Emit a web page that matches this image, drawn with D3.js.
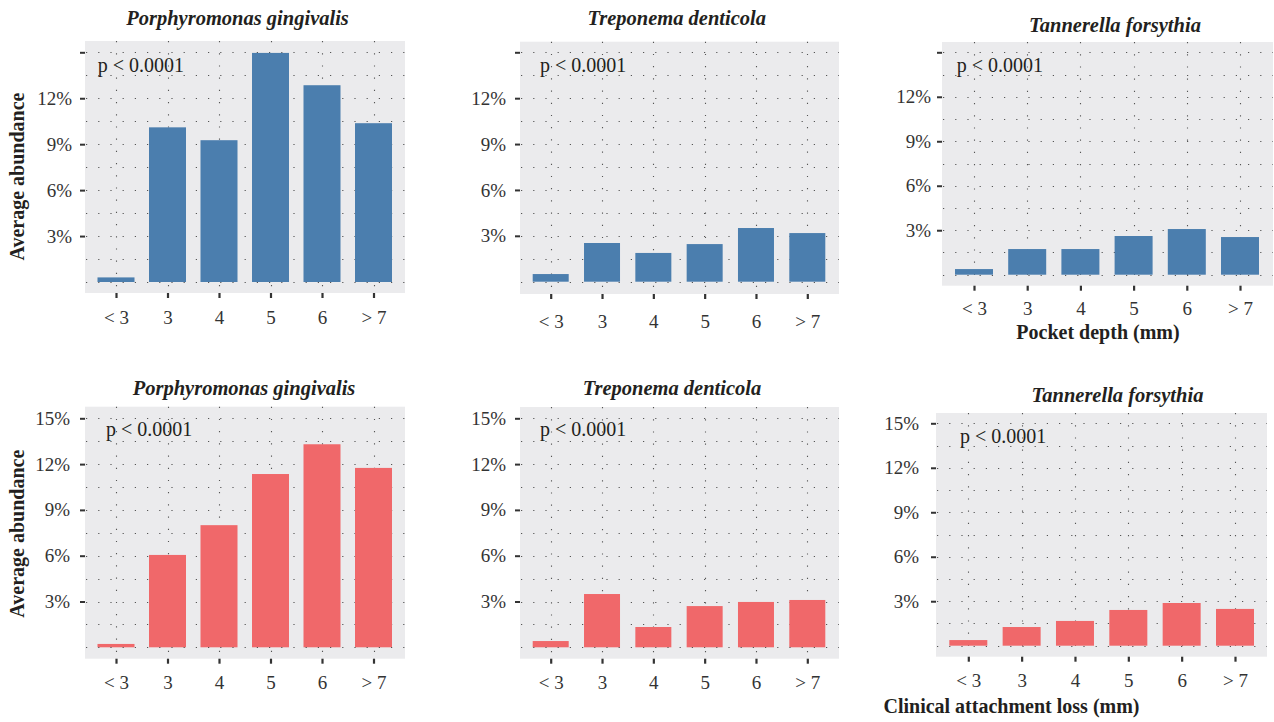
<!DOCTYPE html>
<html>
<head>
<meta charset="utf-8">
<script src="https://cdn.jsdelivr.net/npm/d3@7"></script>
<style>
  html, body { margin: 0; padding: 0; background: #ffffff; }
  svg { display: block; }
  svg text { font-family: "Liberation Serif", "Times New Roman", serif !important; }
</style>
</head>
<body>
<svg id="chart" width="1274" height="722"></svg>
<script>
// ---------- data ----------
const categories = ["< 3", "3", "4", "5", "6", "> 7"];
const speciesNames = ["Porphyromonas gingivalis", "Treponema denticola", "Tannerella forsythia"];
// Average abundance (%) by pocket depth
const pocketPg = [0.3, 10.1, 9.26, 14.96, 12.85, 10.37];
const pocketTd = [0.5, 2.53, 1.88, 2.46, 3.51, 3.18];
const pocketTf = [0.38, 1.73, 1.73, 2.61, 3.08, 2.54];
// Average abundance (%) by clinical attachment loss
const calPg = [0.22, 6.05, 8.0, 11.35, 13.3, 11.75];
const calTd = [0.41, 3.49, 1.33, 2.7, 2.97, 3.1];
const calTf = [0.38, 1.26, 1.67, 2.41, 2.88, 2.48];
const yTickValues = [3, 6, 9, 12, 15];
const gridValues = [0, 1.5, 3, 4.5, 6, 7.5, 9, 10.5, 12, 13.5, 15];
const pText = "p < 0.0001";
const yTitle = "Average abundance";
const xTitleTop = "Pocket depth (mm)";
const xTitleBottom = "Clinical attachment loss (mm)";

// ---------- layout ----------
const BLUE = "#4b7eae";
const RED = "#f0686a";
const BG = "#ebebed";
const INK = "#231f20";
const SERIF = "'Liberation Serif', 'Times New Roman', serif";

const panels = [
  {vals: pocketPg, name: 0, color: BLUE, x0: 85,  x1: 405,  top: 41,  bottom: 293,   zero: 282,   y15: 52.3,  c0: 116,   c5: 373.5,  bw: 37, label15: false, tx: 237.5, ty: 25,    px: 97.7,  py: 71.7,  lgap: 13,  xdy: 24},
  {vals: pocketTd, name: 1, color: BLUE, x0: 520, x1: 839,  top: 41.7,bottom: 294,   zero: 281.7, y15: 52.3,  c0: 550.7, c5: 807.3,  bw: 36, label15: false, tx: 676.7, ty: 25,    px: 540,   py: 71.7,  lgap: 14,  xdy: 27},
  {vals: pocketTf, name: 2, color: BLUE, x0: 942, x1: 1273, top: 42,  bottom: 285.7, zero: 274.7, y15: 52.3,  c0: 974,   c5: 1240,   bw: 38, label15: false, tx: 1115,  ty: 32.3,  px: 956.7, py: 71.7,  lgap: 11,  xdy: 22},
  {vals: calPg,    name: 0, color: RED,  x0: 85,  x1: 405,  top: 406.7,bottom: 658.7,zero: 647.3, y15: 418.3, c0: 116,   c5: 373.5,  bw: 37, label15: true,  tx: 244,   ty: 395,   px: 106,   py: 435.7, lgap: 15,  xdy: 22.5},
  {vals: calTd,    name: 1, color: RED,  x0: 520, x1: 839,  top: 407, bottom: 658.7, zero: 647.3, y15: 418.3, c0: 550.7, c5: 807.3,  bw: 36, label15: true,  tx: 672,   ty: 395,   px: 540,   py: 435.7, lgap: 14,  xdy: 23},
  {vals: calTf,    name: 2, color: RED,  x0: 936, x1: 1267, top: 413, bottom: 656.7, zero: 645.7, y15: 423.3, c0: 968.3, c5: 1235,   bw: 38, label15: true,  tx: 1117.5,ty: 402.3, px: 960,   py: 443.3, lgap: 17,  xdy: 23.3}
];

const svg = d3.select("#chart");

panels.forEach(p => {
  const g = svg.append("g");
  const x = d3.scalePoint().domain(categories).range([p.c0, p.c5]);
  const y = d3.scaleLinear().domain([0, 15]).range([p.zero, p.y15]);

  // background
  g.append("rect")
    .attr("x", p.x0).attr("y", p.top)
    .attr("width", p.x1 - p.x0).attr("height", p.bottom - p.top)
    .attr("fill", BG);

  // dotted grid
  g.selectAll("line.hgrid").data(gridValues.filter(v => v > 0)).enter().append("line")
    .attr("x1", p.x0 + 1).attr("x2", p.x1)
    .attr("y1", d => Math.round(y(d)) + 0.5).attr("y2", d => Math.round(y(d)) + 0.5)
    .attr("stroke", "#555").attr("stroke-width", 1.1)
    .attr("stroke-dasharray", "1.2,11");
  g.selectAll("line.vgrid").data(categories).enter().append("line")
    .attr("x1", d => Math.round(x(d)) + 0.5).attr("x2", d => Math.round(x(d)) + 0.5)
    .attr("y1", p.top).attr("y2", p.bottom)
    .attr("stroke", "#555").attr("stroke-width", 1.1)
    .attr("stroke-dasharray", "1.2,11");

  // bars
  g.selectAll("rect.bar").data(p.vals).enter().append("rect")
    .attr("x", (d, i) => x(categories[i]) - p.bw / 2)
    .attr("width", p.bw)
    .attr("y", d => y(d))
    .attr("height", d => y(0) - y(d))
    .attr("fill", p.color);

  // zero line dots on top of bars
  g.append("line")
    .attr("x1", p.x0 + 1).attr("x2", p.x1)
    .attr("y1", Math.round(y(0)) + 0.5).attr("y2", Math.round(y(0)) + 0.5)
    .attr("stroke", "#555").attr("stroke-width", 1.1)
    .attr("stroke-dasharray", "1.2,11");

  // y axis
  const yAxis = d3.axisLeft(y)
    .tickValues(yTickValues)
    .tickSize(5)
    .tickPadding(p.lgap - 5)
    .tickFormat(d => (d === 15 && !p.label15) ? "" : d + "%");
  const ya = g.append("g").attr("transform", `translate(${p.x0},0)`).call(yAxis)
    .attr("font-family", SERIF).attr("font-size", 19);
  ya.select(".domain").remove();
  ya.selectAll(".tick line").attr("stroke", "#333").attr("stroke-width", 2);
  ya.selectAll(".tick text").style("font-family", SERIF).style("font-size", "19px").attr("fill", "#333");

  // x axis
  const xAxis = d3.axisBottom(x).tickSize(5).tickPadding(p.xdy - 11);
  const xa = g.append("g").attr("transform", `translate(0,${p.bottom})`).call(xAxis)
    .attr("font-family", SERIF).attr("font-size", 19);
  xa.select(".domain").remove();
  xa.selectAll(".tick line").attr("stroke", "#333").attr("stroke-width", 2.2);
  xa.selectAll(".tick text").style("font-family", SERIF).style("font-size", "19px").attr("fill", "#333");

  // title
  g.append("text")
    .attr("x", p.tx).attr("y", p.ty)
    .attr("text-anchor", "middle")
    .style("font-size", "20.5px").attr("font-weight", "bold").attr("font-style", "italic")
    .attr("fill", INK)
    .text(speciesNames[p.name]);

  // p-value
  g.append("text")
    .attr("x", p.px).attr("y", p.py)
    .style("font-size", "20px").attr("fill", INK)
    .text(pText);
});

// axis titles
[176.5, 533.7].forEach(cy => {
  svg.append("text")
    .attr("transform", `translate(24,${cy}) rotate(-90)`)
    .attr("text-anchor", "middle")
    .style("font-size", "20px").attr("font-weight", "bold").attr("fill", INK)
    .text(yTitle);
});
svg.append("text")
  .attr("x", 1098).attr("y", 339)
  .attr("text-anchor", "middle")
  .style("font-size", "20px").attr("font-weight", "bold").attr("fill", INK)
  .text(xTitleTop);
svg.append("text")
  .attr("x", 1011.5).attr("y", 713)
  .attr("text-anchor", "middle")
  .style("font-size", "20px").attr("font-weight", "bold").attr("fill", INK)
  .text(xTitleBottom);
</script>
</body>
</html>
